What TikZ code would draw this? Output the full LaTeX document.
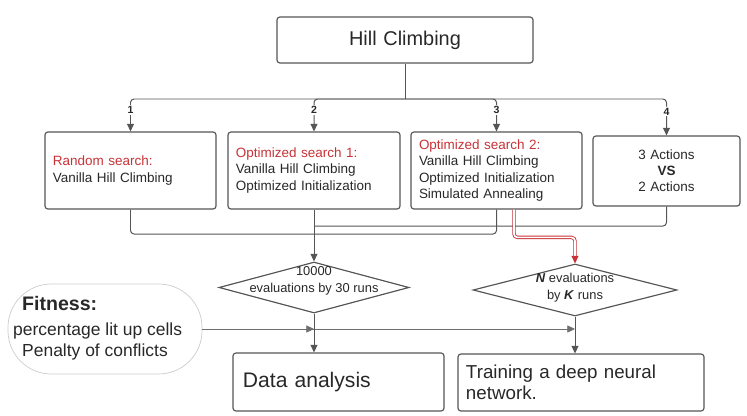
\documentclass[tikz,border=0pt]{standalone}
\usepackage{fontspec}
\setmainfont{Liberation Sans}
\usetikzlibrary{arrows.meta,positioning,shapes.geometric,calc}
\definecolor{linegray}{RGB}{85,85,85}
\definecolor{txtgray}{RGB}{40,40,40}
\definecolor{hcred}{RGB}{200,50,55}
\newcommand{\hl}[1]{\textcolor{hcred}{#1}}

\begin{document}
\begin{tikzpicture}[x=0.03cm, y=-0.03cm,
  box/.style={draw=linegray, line width=1pt, rounded corners=2.5pt, text=txtgray,
              font=\fontsize{11.5}{13.7}\selectfont, inner xsep=0.24cm,
              minimum height=2.31cm},
  decision/.style={draw=linegray, line width=1pt, diamond, inner sep=0pt},
  dtext/.style={align=center, text=txtgray, inner sep=0pt,
                font=\fontsize{11}{14.5}\selectfont},
  num/.style={fill=white, inner sep=1pt, text=txtgray,
              font=\fontsize{9}{10}\selectfont\bfseries},
  conn/.style={draw=linegray, line width=0.85pt, rounded corners=3pt},
  arrow/.style={conn, -{Triangle[length=6.5pt,width=6pt]}},
  thinarrow/.style={draw=linegray!85, line width=0.6pt,
                    -{Triangle[length=6.5pt,width=6pt]}},
  redarrow/.style={draw=hcred, double=white, double distance=1.4pt,
                   line width=0.75pt, rounded corners=3pt,
                   -{Triangle[length=6.5pt,width=6pt]}}
]
\useasboundingbox (0,0) rectangle (747,416);

%% Top
\node[box, minimum height=1.38cm, text width=7.2cm, align=center,
      font=\fontsize{17}{20}\selectfont] (hill) at (405,40) {Hill Climbing};

%% The four variants
\node[box, text width=4.65cm, align=left] (b1) at (130.5,170.5)
  {\hl{Random search:}\\Vanilla Hill Climbing};
\node[box, text width=4.68cm, align=left] (b2) at (314,170.5)
  {\hl{Optimized search 1:}\\Vanilla Hill Climbing\\Optimized Initialization};
\node[box, text width=4.65cm, align=left] (b3) at (496.5,170.5)
  {\hl{Optimized search 2:}\\Vanilla Hill Climbing\\Optimized Initialization\\Simulated Annealing};
\node[box, text width=3.93cm, minimum height=2.1cm, align=center] (b4) at (666.5,171)
  {3 Actions\\\textbf{VS}\\2 Actions};

%% Evaluations
\node[decision, minimum width=5.7cm, minimum height=1.53cm] (d1) at (314,287.5) {};
\node[dtext] (d1t) at (314,281) {10000\\evaluations by 30 runs};
\node[decision, minimum width=6.12cm, minimum height=1.56cm] (d2) at (575,290) {};
\node[dtext] (d2t) at (575,288)
  {\textbf{\textit{N}} evaluations\\by \textbf{\textit{K}} runs};

%% Fitness
\node[draw=gray!40, line width=0.6pt, rounded corners=1.3cm,
      minimum width=5.82cm, minimum height=2.7cm] (fit) at (105,329) {};
\node[align=left, anchor=west, inner sep=0pt, text=txtgray,
      font=\fontsize{14.9}{18}\selectfont] (fitt) at (13,328)
  {\hspace*{0.27cm}{\fontsize{16.7}{18}\selectfont\bfseries Fitness:}\\[3pt]
   percentage lit up cells\\
   \hspace*{0.27cm}Penalty of conflicts};

%% Results
\node[box, minimum height=1.74cm, text width=5.73cm, inner xsep=0.3cm, align=left,
      font=\fontsize{18}{21}\selectfont] (da) at (338.5,382) {Data analysis};
\node[box, minimum height=1.71cm, text width=6.9cm, align=left,
      font=\fontsize{16}{18}\selectfont] (tr) at (581,382.5)
  {Training a deep neural\\network.};

%% Branches
\coordinate (bus) at (405,99);
\draw[conn] (hill.south) -- (bus);
\foreach \b/\n in {b1/1,b2/2,b3/3,b4/4}
  \draw[arrow] (bus) -| node[num, pos=0.67] (n\n) {\n} (\b.north);

%% Merging
\coordinate (j1) at (314,234);
\coordinate (j2) at (314,226);
\draw[conn] (b1.south) |- (j1);
\draw[conn] (b3.south) |- (j1);
\draw[conn] (b4.south) |- (j2);
\draw[arrow] (b2.south) -- (d1.north);
\draw[redarrow] ($(b3.south)+(17.5,0)$) |- ($(d2.north)+(0,-26)$) -- (d2.north);

\draw[thinarrow] (fit.east) -- (fit.east -| d1.south);
\draw[thinarrow] (fit.east) -- (fit.east -| d2.south);
\draw[arrow] (d1.south) -- (d1.south |- da.north);
\draw[arrow] (d2.south) -- (d2.south |- tr.north);

\end{tikzpicture}
\end{document}
